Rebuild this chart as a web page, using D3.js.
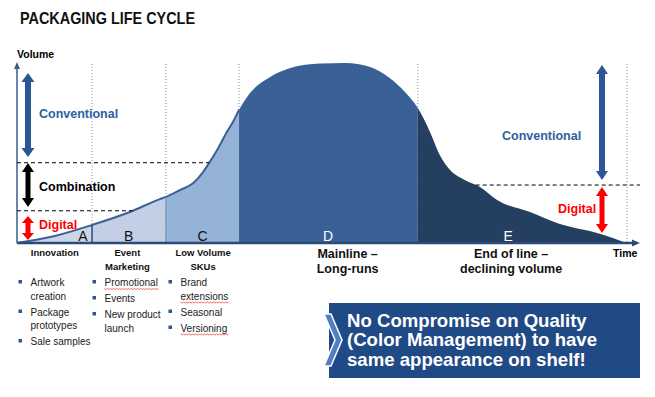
<!DOCTYPE html>
<html>
<head>
<meta charset="utf-8">
<script src="https://cdn.jsdelivr.net/npm/d3@7"></script>
<style>
body { margin: 0; background: #fff; }
svg { display: block; }
text { font-family: "Liberation Sans", Arial, sans-serif; }
</style>
</head>
<body>
<svg id="chart" width="655" height="397"></svg>
<script>
// life cycle curve, time 0-100 vs volume 0-100
var time   = [0, 6.2, 12.3, 18.5, 23.4, 24.4, 26.7, 28.9, 30.5, 31.6, 33.0, 34.4, 35.4, 36.4, 38.2, 41.5, 44.8, 49.7, 53.8, 57.9, 61.1, 63.6, 65.7, 67.7, 69.3, 71.0, 73.4, 75.9, 78.7, 84.1, 89.0, 95.1, 100];
var volume = [0, 3.9, 10.0, 17.2, 24.4, 25.6, 29.4, 33.3, 39.4, 45.0, 52.8, 61.7, 67.2, 73.9, 83.3, 92.2, 97.2, 99.7, 100, 97.8, 91.7, 83.9, 75.0, 61.7, 48.9, 40.6, 35.0, 31.1, 23.9, 17.2, 10.6, 5.6, 0];

// phases
var phaseEdges   = [0, 12.3, 24.4, 36.4, 65.7, 100];
var phaseLetters = ["A", "B", "C", "D", "E"];
var phaseLetterAt = [10.8, 18.3, 30.4, 51, 80.5];
var phaseColors  = ["#cdd6e9", "#c3cfe5", "#95b2d7", "#3a6195", "#253f61"];
var phaseNames   = [["Innovation"], ["Event", "Marketing"], ["Low Volume", "SKUs"], ["Mainline \u2013", "Long-runs"], ["End of line \u2013", "declining volume"]];
var phaseNameAt  = [6.2, 18.1, 30.5, 54.2, 81];

// technology bands (volume thresholds) and their arrows [from, to]
var leftThresholds  = [17.9, 44.6];
var rightThreshold  = 32.2;
var leftBands  = [
  { label: "Conventional", range: [47.8, 94.4], color: "#2c5593", text: "#2f5f9f" },
  { label: "Combination",  range: [20.0, 44.4], color: "#000000", text: "#000000" },
  { label: "Digital",      range: [1.7, 15.0],  color: "#ff0000", text: "#ff0000" }
];
var rightBands = [
  { label: "Conventional", range: [35.0, 98.9], color: "#2c5593", text: "#2f5f9f" },
  { label: "Digital",      range: [5.6, 31.1],  color: "#ff0000", text: "#ff0000" }
];

// bullet lists under the first three phases
var bulletLists = [
  [["Artwork", "creation"], ["Package", "prototypes"], ["Sale samples"]],
  [["Promotional"], ["Events"], ["New product", "launch"]],
  [["Brand", "extensions"], ["Seasonal"], ["Versioning"]]
];
var misspelled = ["Promotional", "extensions", "Versioning"];

var calloutLines = ["No Compromise on Quality", "(Color Management) to have", "same appearance on shelf!"];

var svg = d3.select("#chart");
var x = d3.scaleLinear().domain([0, 100]).range([17, 627]);
var y = d3.scaleLinear().domain([0, 100]).range([243, 63]);

var curveData = time.map(function (t, i) { return { t: t, v: volume[i] }; });

function volumeAt(t) {
  var i = d3.bisectLeft(time, t);
  if (time[i] === t) return volume[i];
  var k = (t - time[i - 1]) / (time[i] - time[i - 1]);
  return volume[i - 1] + k * (volume[i] - volume[i - 1]);
}
// time where the curve crosses v, searching from lo to hi
function timeAt(v, lo, hi) {
  for (var i = 0; i < time.length - 1; i++) {
    if (time[i] < lo || time[i + 1] > hi) continue;
    var a = volume[i], b = volume[i + 1];
    if ((a - v) * (b - v) <= 0 && a !== b) {
      return time[i] + (v - a) / (b - a) * (time[i + 1] - time[i]);
    }
  }
  return lo;
}

// title
svg.append("text")
  .attr("x", 20).attr("y", 24)
  .attr("font-family", "Lato, 'Liberation Sans', sans-serif")
  .attr("font-weight", "bold").attr("font-size", 17)
  .attr("textLength", 175).attr("lengthAdjust", "spacingAndGlyphs")
  .attr("fill", "#111")
  .text("PACKAGING LIFE CYCLE");

svg.append("text")
  .attr("x", 17).attr("y", 58)
  .attr("font-weight", "bold").attr("font-size", 10.5)
  .text("Volume");

// dotted phase separators
svg.selectAll(".sep")
  .data(phaseEdges.slice(1))
  .enter().append("line")
  .attr("class", "sep")
  .attr("x1", function (d) { return x(d); }).attr("x2", function (d) { return x(d); })
  .attr("y1", y(100) + 1).attr("y2", y(0))
  .attr("stroke", "#7f91ad").attr("stroke-width", 1)
  .attr("stroke-dasharray", "1,2");

// phase areas
var area = d3.area()
  .x(function (d) { return x(d.t); })
  .y0(y(0))
  .y1(function (d) { return y(d.v); })
  .curve(d3.curveMonotoneX);
var line = d3.line()
  .x(function (d) { return x(d.t); })
  .y(function (d) { return y(d.v); })
  .curve(d3.curveMonotoneX);

var defs = svg.append("defs");
phaseEdges.slice(0, -1).forEach(function (e, i) {
  defs.append("clipPath").attr("id", "clip" + i)
    .append("rect")
    .attr("x", x(e)).attr("y", 0)
    .attr("width", x(phaseEdges[i + 1]) - x(e))
    .attr("height", y(0));
});
defs.append("clipPath").attr("id", "clipOutline")
  .append("rect").attr("x", 0).attr("y", 0)
  .attr("width", x(phaseEdges[3])).attr("height", y(0) + 2);

svg.selectAll(".phase")
  .data(phaseColors)
  .enter().append("path")
  .attr("class", "phase")
  .attr("d", area(curveData))
  .attr("fill", function (d) { return d; })
  .attr("clip-path", function (d, i) { return "url(#clip" + i + ")"; });

svg.append("path")
  .attr("d", line(curveData))
  .attr("fill", "none")
  .attr("stroke", "#3a6195").attr("stroke-width", 2)
  .attr("clip-path", "url(#clipOutline)");

// solid boundaries A|B and B|C
[[phaseEdges[1], "#2b4a78", 1.5], [phaseEdges[2], "#6d8cbb", 1]].forEach(function (b) {
  svg.append("line")
    .attr("x1", x(b[0])).attr("x2", x(b[0]))
    .attr("y1", y(volumeAt(b[0]))).attr("y2", y(0))
    .attr("stroke", b[1]).attr("stroke-width", b[2]);
});

// phase letters
svg.selectAll(".letter")
  .data(phaseLetters)
  .enter().append("text")
  .attr("x", function (d, i) { return x(phaseLetterAt[i]); })
  .attr("y", 240.5)
  .attr("text-anchor", "middle")
  .attr("font-size", 14)
  .attr("fill", function (d, i) { return i < 3 ? "#111" : "#ffffff"; })
  .text(function (d) { return d; });

// axes
svg.append("line")
  .attr("x1", x(0)).attr("x2", 634).attr("y1", y(0)).attr("y2", y(0))
  .attr("stroke", "#2c4a78").attr("stroke-width", 2.5);
svg.append("path")
  .attr("d", "M640," + y(0) + "L632," + (y(0) - 3.5) + "L632," + (y(0) + 3.5) + "Z")
  .attr("fill", "#2c4a78");
svg.append("line")
  .attr("x1", x(0)).attr("x2", x(0)).attr("y1", y(0)).attr("y2", 67)
  .attr("stroke", "#385d8a").attr("stroke-width", 1.5);
svg.append("path")
  .attr("d", "M" + x(0) + ",62L" + (x(0) - 3) + ",69L" + (x(0) + 3) + ",69Z")
  .attr("fill", "#385d8a");

svg.append("text")
  .attr("x", 613).attr("y", 257)
  .attr("font-weight", "bold").attr("font-size", 10.5)
  .text("Time");

// dashed thresholds
leftThresholds.forEach(function (v) {
  svg.append("line")
    .attr("x1", x(0)).attr("x2", x(timeAt(v, 0, 50)))
    .attr("y1", y(v)).attr("y2", y(v))
    .attr("stroke", "#000").attr("stroke-width", 1)
    .attr("stroke-dasharray", "4,3");
});
svg.append("line")
  .attr("x1", x(timeAt(rightThreshold, 50, 100))).attr("x2", 640)
  .attr("y1", y(rightThreshold)).attr("y2", y(rightThreshold))
  .attr("stroke", "#000").attr("stroke-width", 1)
  .attr("stroke-dasharray", "4,3");

// double arrows
function doubleArrow(cx, yTop, yBot, color, shaft, headW, headL) {
  var p = [
    [cx, yTop], [cx + headW / 2, yTop + headL], [cx + shaft / 2, yTop + headL],
    [cx + shaft / 2, yBot - headL], [cx + headW / 2, yBot - headL], [cx, yBot],
    [cx - headW / 2, yBot - headL], [cx - shaft / 2, yBot - headL],
    [cx - shaft / 2, yTop + headL], [cx - headW / 2, yTop + headL]
  ];
  svg.append("path").attr("d", "M" + p.join("L") + "Z").attr("fill", color);
}

var leftLabelY = [118, 191, 229];
leftBands.forEach(function (b, i) {
  doubleArrow(x(1.8), y(b.range[1]), y(b.range[0]), b.color, i === 0 ? 6 : 5, i === 0 ? 13 : 12, i === 2 ? 7 : 9);
  svg.append("text")
    .attr("x", 39).attr("y", leftLabelY[i])
    .attr("font-weight", "bold").attr("font-size", 12.5)
    .attr("fill", b.text)
    .text(b.label);
});
var rightLabelX = [502, 558], rightLabelY = [140, 213];
rightBands.forEach(function (b, i) {
  doubleArrow(x(95.9), y(b.range[1]), y(b.range[0]), b.color, i === 0 ? 6 : 5, 12, 9);
  svg.append("text")
    .attr("x", rightLabelX[i]).attr("y", rightLabelY[i])
    .attr("font-weight", "bold").attr("font-size", 12.5)
    .attr("fill", b.text)
    .text(b.label);
});

// phase names under the axis
phaseNames.forEach(function (lines, i) {
  var big = i > 2;
  lines.forEach(function (s, j) {
    svg.append("text")
      .attr("x", x(phaseNameAt[i]))
      .attr("y", big ? 258 + j * 15 : 256 + j * 14)
      .attr("text-anchor", "middle")
      .attr("font-weight", "bold")
      .attr("font-size", big ? 12.5 : 9.5)
      .attr("fill", "#111")
      .text(s);
  });
});

// bullet lists
var colTextX = [30.5, 104.5, 180.5];
bulletLists.forEach(function (items, c) {
  var by = 286;
  items.forEach(function (item) {
    svg.append("rect")
      .attr("x", colTextX[c] - 12).attr("y", by - 6)
      .attr("width", 3.5).attr("height", 3.5)
      .attr("fill", "#2f5597");
    item.forEach(function (s, j) {
      var t = svg.append("text")
        .attr("x", colTextX[c]).attr("y", by)
        .attr("font-family", "'Open Sans', sans-serif")
        .attr("font-size", 10)
        .attr("fill", "#222")
        .text(s);
      if (misspelled.indexOf(s) >= 0) {
        var w = t.node().getComputedTextLength();
        var d = "M" + colTextX[c] + "," + (by + 2.5);
        for (var k = 0, xx = colTextX[c]; xx < colTextX[c] + w; k++) {
          xx += 1.5;
          d += "L" + xx + "," + (by + (k % 2 ? 2.5 : 3.6));
        }
        svg.append("path").attr("d", d).attr("fill", "none")
          .attr("stroke", "#e0302a").attr("stroke-width", 0.7);
      }
      if (j < item.length - 1) by += 13.5;
    });
    by += 16;
  });
});

// callout box
svg.append("rect")
  .attr("x", 329).attr("y", 303).attr("width", 311).attr("height", 75)
  .attr("fill", "#1f4a86");
svg.append("path")
  .attr("d", "M324,314L331,314L342,340L331,366L324,366L335,340Z")
  .attr("fill", "#4f7fc0").attr("stroke", "#fff").attr("stroke-width", 1.5);
svg.selectAll(".callout")
  .data(calloutLines)
  .enter().append("text")
  .attr("x", 347)
  .attr("y", function (d, i) { return 326.5 + i * 19.5; })
  .attr("font-weight", "bold").attr("font-size", 18.6)
  .attr("fill", "#fff")
  .text(function (d) { return d; });
</script>
</body>
</html>
